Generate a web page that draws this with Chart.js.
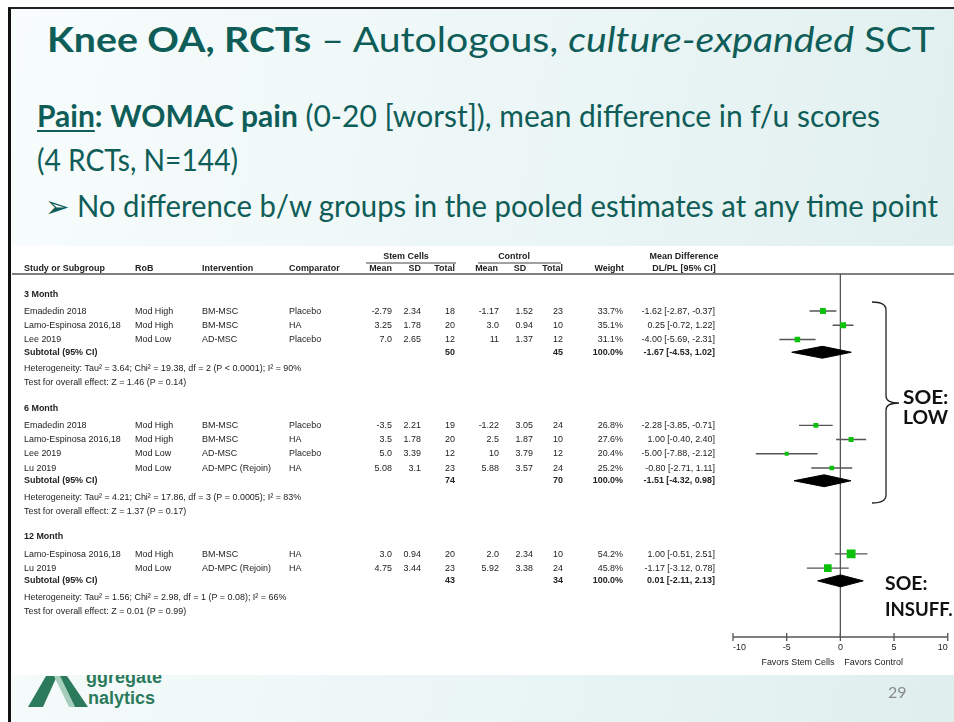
<!DOCTYPE html>
<html>
<head>
<meta charset="utf-8">
<script src="https://cdn.jsdelivr.net/npm/chart.js@4.4.1/dist/chart.umd.min.js"></script>
<style>
  html, body { margin: 0; padding: 0; background: #fff; }
  #slide { position: relative; width: 954px; height: 722px; overflow: hidden; background: #fff; }
  #bg {
    position: absolute; left: 8px; top: 7px; right: 0; bottom: 0;
    border-left: 3px solid #111; border-top: 2px solid #222;
    background: linear-gradient(100deg, #f8fcfc 0%, #ecf6f6 50%, #dfefee 100%);
  }
  .txt {
    position: absolute; white-space: nowrap; line-height: 1;
    font-family: Lato, "Open Sans", sans-serif; color: #0f5d58;
    transform-origin: 0 0;
  }
  .u { text-decoration: underline; text-decoration-thickness: 2px; text-underline-offset: 3px; }
  .soe { position: absolute; white-space: nowrap; line-height: 1; font-family: Lato, sans-serif;
         font-weight: bold; font-size: 18px; color: #111; transform-origin: 0 0; }
  #forest { position: absolute; left: 12px; top: 246px; background: #fff; }
  #logo { position: absolute; left: 0; top: 0; }
  #pageNo { position: absolute; left: 888px; top: 684px; font-family: Lato, sans-serif; font-size: 16px; color: #8a8a8a; line-height: 1; }
</style>
</head>
<body>
<div id="slide">
  <div id="bg"></div>

  <svg id="logo" width="954" height="722">
    <polygon points="28,707 43,707 57,676 46,676" fill="#2b7a5b"/>
    <polygon points="54,676 60,676 75,707 69,707" fill="#a5cfbb"/>
    <polygon points="60,676 67,676 88,707 75,707" fill="#2b7a5b"/>
    <text x="86" y="683" font-family="Liberation Sans, Arial, sans-serif" font-weight="bold" font-size="18" fill="#2b7a5b">ggregate</text>
    <text x="88" y="704" font-family="Liberation Sans, Arial, sans-serif" font-weight="bold" font-size="18" fill="#2b7a5b">nalytics</text>
  </svg>

  <div class="txt fit" data-w="888" style="left:47px; top:21px; font-size:35px;">
    <b>Knee OA, RCTs</b> – Autologous, <i>culture-expanded</i> SCT</div>
  <div class="txt fit" data-w="843" style="left:37px; top:100px; font-size:30px;">
    <b><span class="u">Pain</span>:</b> <b>WOMAC pain</b> (0-20 [worst]), mean difference in f/u scores</div>
  <div class="txt fit" data-w="201" style="left:37px; top:144px; font-size:30px;">(4 RCTs, N=144)</div>
  <div class="txt fit" data-w="893" style="left:45px; top:190px; font-size:30px;">➢ No difference b/w groups in the pooled estimates at any time point</div>

  <canvas id="forest" width="942" height="429"></canvas>

  <div class="soe fit" data-w="45" style="left:903px; top:388px;">SOE:</div>
  <div class="soe fit" data-w="45" style="left:903px; top:408px;">LOW</div>
  <div class="soe fit" data-w="42" style="left:885px; top:574px;">SOE:</div>
  <div class="soe fit" data-w="68" style="left:885px; top:600px;">INSUFF.</div>

  <div id="pageNo">29</div>
</div>

<script>
// ---- study-level data (one entry per study row) ----
const groupLabels = ['3 Month', '6 Month', '12 Month'];
const groupOf = [0, 0, 0, 1, 1, 1, 1, 2, 2];
const studyNames = ['Emadedin 2018', 'Lamo-Espinosa 2016,18', 'Lee 2019',
                    'Emadedin 2018', 'Lamo-Espinosa 2016,18', 'Lee 2019', 'Lu 2019',
                    'Lamo-Espinosa 2016,18', 'Lu 2019'];
const rob = ['Mod High', 'Mod High', 'Mod Low', 'Mod High', 'Mod High', 'Mod Low', 'Mod Low', 'Mod High', 'Mod Low'];
const intervention = ['BM-MSC', 'BM-MSC', 'AD-MSC', 'BM-MSC', 'BM-MSC', 'AD-MSC', 'AD-MPC (Rejoin)', 'BM-MSC', 'AD-MPC (Rejoin)'];
const comparator = ['Placebo', 'HA', 'Placebo', 'Placebo', 'HA', 'Placebo', 'HA', 'HA', 'HA'];
const scMean = ['-2.79', '3.25', '7.0', '-3.5', '3.5', '5.0', '5.08', '3.0', '4.75'];
const scSD = ['2.34', '1.78', '2.65', '2.21', '1.78', '3.39', '3.1', '0.94', '3.44'];
const scN = [18, 20, 12, 19, 20, 12, 23, 20, 23];
const ctlMean = ['-1.17', '3.0', '11', '-1.22', '2.5', '10', '5.88', '2.0', '5.92'];
const ctlSD = ['1.52', '0.94', '1.37', '3.05', '1.87', '3.79', '3.57', '2.34', '3.38'];
const ctlN = [23, 10, 12, 24, 10, 12, 24, 10, 24];
const weight = [33.7, 35.1, 31.1, 26.8, 27.6, 20.4, 25.2, 54.2, 45.8];
const md = [-1.62, 0.25, -4.00, -2.28, 1.00, -5.00, -0.80, 1.00, -1.17];
const ciLow = [-2.87, -0.72, -5.69, -3.85, -0.40, -7.88, -2.71, -0.51, -3.12];
const ciHigh = [-0.37, 1.22, -2.31, -0.71, 2.40, -2.12, 1.11, 2.51, 0.78];

// ---- pooled (subtotal) data per time point ----
const subWeight = [100.0, 100.0, 100.0];
const subMd = [-1.67, -1.51, 0.01];
const subLow = [-4.53, -4.32, -2.11];
const subHigh = [1.02, 0.98, 2.13];
const hetText = ['Heterogeneity: Tau² = 3.64; Chi² = 19.38, df = 2 (P < 0.0001); I² = 90%',
                 'Heterogeneity: Tau² = 4.21; Chi² = 17.86, df = 3 (P = 0.0005); I² = 83%',
                 'Heterogeneity: Tau² = 1.56; Chi² = 2.98, df = 1 (P = 0.08); I² = 66%'];
const testText = ['Test for overall effect: Z = 1.46 (P = 0.14)',
                  'Test for overall effect: Z = 1.37 (P = 0.17)',
                  'Test for overall effect: Z = 0.01 (P = 0.99)'];

const xTicks = [-10, -5, 0, 5, 10];
const favorsLeft = 'Favors Stem Cells';
const favorsRight = 'Favors Control';

// ---- row layout (in row units, top to bottom) ----
const ROW_PX = 14.2;
const studyY = [];
const groupY = [], subY = [], hetY = [], testY = [];
let cur = 1.41;
groupLabels.forEach((g, gi) => {
  groupY.push(cur);
  cur += 1.2;
  groupOf.forEach((grp, i) => {
    if (grp === gi) { studyY[i] = cur; cur += 1; }
  });
  cur -= 0.1;
  subY.push(cur);
  cur += 1.15; hetY.push(cur);
  cur += 1; testY.push(cur);
  cur += 1.8;
});

const sumBy = (arr, gi) => arr.reduce((s, v, i) => s + (groupOf[i] === gi ? v : 0), 0);
const fmtCI = (m, lo, hi) => `${m.toFixed(2)} [${lo.toFixed(2)}, ${hi.toFixed(2)}]`;

// canvas geometry
const CHART_TOP = 28, CHART_BOTTOM_PAD = 38, CHART_LEFT = 721;
const canvasH = 429;
const yMax = (canvasH - CHART_TOP - CHART_BOTTOM_PAD) / ROW_PX;

// column anchors inside the canvas
const col = {
  study: 12, rob: 123, interv: 190, comp: 277,
  scMean: 380, scSD: 409, scN: 443,
  ctlMean: 487, ctlSD: 521, ctlN: 551,
  weight: 611, ci: 703
};
const TXT_SX = 0.94;
const INK = '#222';

function put(ctx, str, x, y, align, bold) {
  ctx.save();
  ctx.font = (bold ? 'bold ' : '') + '9.5px "Liberation Sans", Arial, sans-serif';
  ctx.fillStyle = INK;
  ctx.translate(x, y);
  ctx.scale(TXT_SX, 1);
  ctx.textAlign = align || 'left';
  ctx.textBaseline = 'middle';
  ctx.fillText(str, 0, 0);
  ctx.restore();
}

function hline(ctx, x1, x2, y, w, color) {
  ctx.save();
  ctx.strokeStyle = color || '#555';
  ctx.lineWidth = w || 1;
  ctx.beginPath();
  ctx.moveTo(x1, y); ctx.lineTo(x2, y);
  ctx.stroke();
  ctx.restore();
}

// table text, header rules, zero line, axis and bracket
const forestTable = {
  id: 'forestTable',
  beforeDatasetsDraw(chart) {
    const ctx = chart.ctx;
    const x = chart.scales.x;
    const area = chart.chartArea;
    const x0 = x.getPixelForValue(0);
    ctx.save();
    ctx.strokeStyle = '#555';
    ctx.lineWidth = 1.3;
    ctx.beginPath();
    ctx.moveTo(x0, area.top); ctx.lineTo(x0, area.bottom);
    ctx.stroke();
    ctx.restore();
  },
  afterDraw(chart) {
    const ctx = chart.ctx;
    const x = chart.scales.x, y = chart.scales.y;
    const area = chart.chartArea;
    const py = v => y.getPixelForValue(v);

    // column headers
    put(ctx, 'Stem Cells', 394, 10, 'center', true);
    put(ctx, 'Control', 502, 10, 'center', true);
    put(ctx, 'Mean Difference', 672, 10, 'center', true);
    hline(ctx, 354, 444, 17, 1, '#444');
    hline(ctx, 466, 549, 17, 1, '#444');
    const hy = 22.5;
    put(ctx, 'Study or Subgroup', col.study, hy, 'left', true);
    put(ctx, 'RoB', col.rob, hy, 'left', true);
    put(ctx, 'Intervention', col.interv, hy, 'left', true);
    put(ctx, 'Comparator', col.comp, hy, 'left', true);
    put(ctx, 'Mean', col.scMean, hy, 'right', true);
    put(ctx, 'SD', col.scSD, hy, 'right', true);
    put(ctx, 'Total', col.scN, hy, 'right', true);
    put(ctx, 'Mean', col.ctlMean - 1, hy, 'right', true);
    put(ctx, 'SD', 508, hy, 'center', true);
    put(ctx, 'Total', col.ctlN, hy, 'right', true);
    put(ctx, 'Weight', col.weight + 1, hy, 'right', true);
    put(ctx, 'DL/PL [95% CI]', 672, hy, 'center', true);
    hline(ctx, 0, chart.width, area.top, 1.5, '#555');

    // study rows
    studyNames.forEach((name, i) => {
      const yy = py(studyY[i]);
      put(ctx, name, col.study, yy, 'left');
      put(ctx, rob[i], col.rob, yy, 'left');
      put(ctx, intervention[i], col.interv, yy, 'left');
      put(ctx, comparator[i], col.comp, yy, 'left');
      put(ctx, scMean[i], col.scMean, yy, 'right');
      put(ctx, scSD[i], col.scSD, yy, 'right');
      put(ctx, String(scN[i]), col.scN, yy, 'right');
      put(ctx, ctlMean[i], col.ctlMean, yy, 'right');
      put(ctx, ctlSD[i], col.ctlSD, yy, 'right');
      put(ctx, String(ctlN[i]), col.ctlN, yy, 'right');
      put(ctx, weight[i].toFixed(1) + '%', col.weight, yy, 'right');
      put(ctx, fmtCI(md[i], ciLow[i], ciHigh[i]), col.ci, yy, 'right');
    });

    // group headers, subtotals and test lines
    groupLabels.forEach((g, gi) => {
      put(ctx, g, col.study, py(groupY[gi]), 'left', true);
      const sy = py(subY[gi]);
      put(ctx, 'Subtotal (95% CI)', col.study, sy, 'left', true);
      put(ctx, String(sumBy(scN, gi)), col.scN, sy, 'right', true);
      put(ctx, String(sumBy(ctlN, gi)), col.ctlN, sy, 'right', true);
      put(ctx, subWeight[gi].toFixed(1) + '%', col.weight, sy, 'right', true);
      put(ctx, fmtCI(subMd[gi], subLow[gi], subHigh[gi]), col.ci, sy, 'right', true);
      put(ctx, hetText[gi], col.study, py(hetY[gi]), 'left');
      put(ctx, testText[gi], col.study, py(testY[gi]), 'left');
    });

    // x axis with ticks rising through the line
    const ab = area.bottom;
    ctx.save();
    ctx.strokeStyle = '#555';
    ctx.lineWidth = 1.3;
    ctx.beginPath();
    ctx.moveTo(x.getPixelForValue(xTicks[0]), ab);
    ctx.lineTo(x.getPixelForValue(xTicks[xTicks.length - 1]), ab);
    xTicks.forEach(t => {
      const tx = x.getPixelForValue(t);
      ctx.moveTo(tx, ab - 4); ctx.lineTo(tx, ab + 4);
    });
    ctx.stroke();
    ctx.restore();
    xTicks.forEach((t, k) => {
      const tx = x.getPixelForValue(t);
      const align = k === 0 ? 'left' : (k === xTicks.length - 1 ? 'right' : 'center');
      put(ctx, String(t), tx, ab + 10, align);
    });
    const x0 = x.getPixelForValue(0);
    put(ctx, favorsLeft, x0 - 6, ab + 25, 'right');
    put(ctx, favorsRight, x0 + 4, ab + 25, 'left');

    // brace grouping the 3 and 6 month estimates
    ctx.save();
    ctx.strokeStyle = '#222';
    ctx.lineWidth = 1.3;
    ctx.beginPath();
    ctx.moveTo(860, 56);
    ctx.quadraticCurveTo(874, 56, 874, 64);
    ctx.lineTo(874, 150);
    ctx.quadraticCurveTo(874, 157, 887, 157);
    ctx.moveTo(887, 157);
    ctx.quadraticCurveTo(874, 157, 874, 164);
    ctx.lineTo(874, 249);
    ctx.quadraticCurveTo(874, 257, 860, 257);
    ctx.stroke();
    ctx.restore();
  }
};

// datasets: squares on top, then whiskers, then pooled diamonds
const squares = {
  data: md.map((m, i) => ({ x: m, y: studyY[i] })),
  pointStyle: 'rect',
  pointRadius: weight.map(w => (1 + 0.145 * w) / Math.SQRT2),
  backgroundColor: '#0cc10c',
  borderWidth: 0,
  showLine: false
};
const whiskers = md.map((m, i) => ({
  data: [{ x: ciLow[i], y: studyY[i] }, { x: ciHigh[i], y: studyY[i] }],
  showLine: true,
  borderColor: '#555',
  borderWidth: 1.4,
  pointRadius: 0
}));
const DIAMOND_H = 0.42;
const diamonds = subMd.map((m, gi) => ({
  data: [
    { x: subLow[gi], y: subY[gi] },
    { x: m, y: subY[gi] - DIAMOND_H },
    { x: subHigh[gi], y: subY[gi] },
    { x: m, y: subY[gi] + DIAMOND_H },
    { x: subLow[gi], y: subY[gi] }
  ],
  showLine: true,
  fill: 'shape',
  backgroundColor: '#000',
  borderColor: '#000',
  borderWidth: 1,
  pointRadius: 0,
  tension: 0
}));

new Chart(document.getElementById('forest').getContext('2d'), {
  type: 'scatter',
  data: { datasets: [squares, ...whiskers, ...diamonds] },
  options: {
    responsive: false,
    animation: false,
    devicePixelRatio: 1,
    events: [],
    layout: { padding: { left: CHART_LEFT, right: 1, top: CHART_TOP, bottom: CHART_BOTTOM_PAD } },
    plugins: { legend: { display: false }, tooltip: { enabled: false } },
    scales: {
      x: { type: 'linear', min: xTicks[0], max: xTicks[xTicks.length - 1], display: false },
      y: { type: 'linear', min: 0, max: yMax, reverse: true, display: false }
    }
  },
  plugins: [forestTable]
});

// squeeze slide text lines to their set widths
function fitLines() {
  document.querySelectorAll('.fit').forEach(el => {
    const w = parseFloat(el.dataset.w);
    el.style.transform = `scaleX(${w / el.offsetWidth})`;
  });
}
if (document.fonts && document.fonts.ready) document.fonts.ready.then(fitLines); else fitLines();
fitLines();
</script>
</body>
</html>
